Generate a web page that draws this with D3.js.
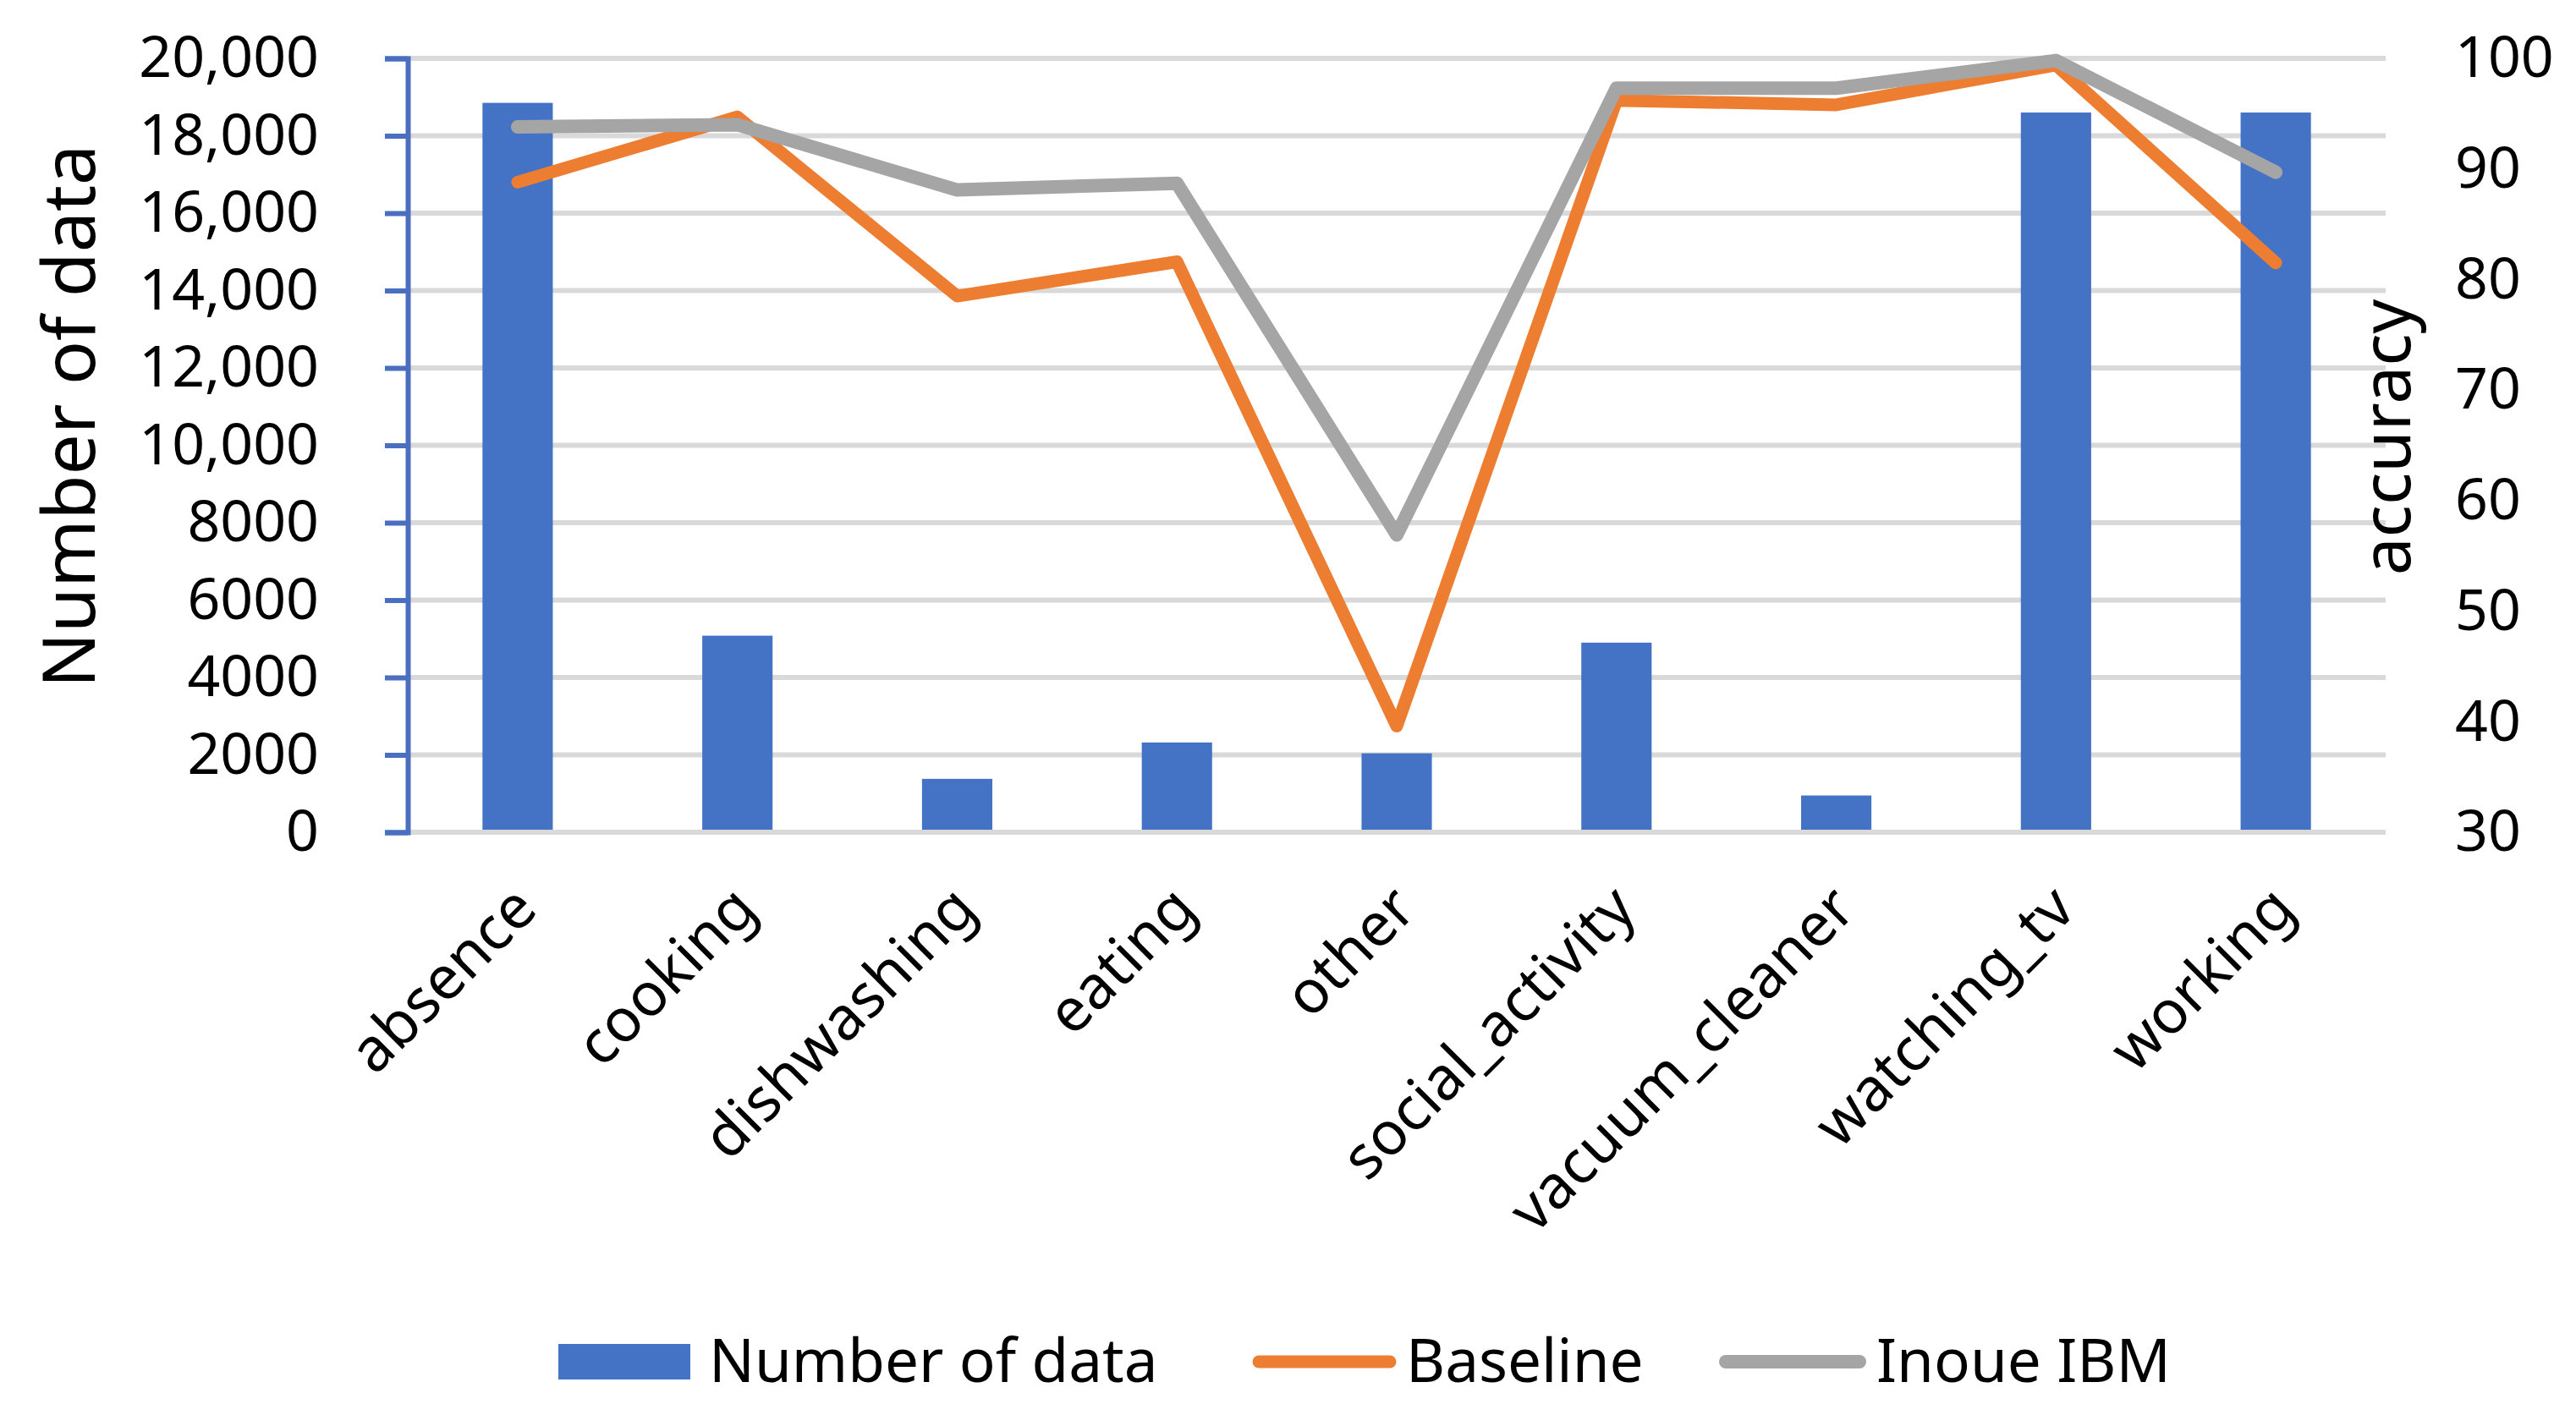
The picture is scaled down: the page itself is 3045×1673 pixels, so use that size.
<!DOCTYPE html>
<html>
<head>
<meta charset="utf-8">
<script src="https://cdn.jsdelivr.net/npm/d3@7"></script>
<style>
  html, body { margin: 0; padding: 0; background: #fff; }
  svg { display: block; }
  text { font-family: "Noto Sans", "Open Sans", sans-serif; fill: #000; }
</style>
</head>
<body>
<script>
const categories = ["absence","cooking","dishwashing","eating","other","social_activity","vacuum_cleaner","watching_tv","working"];
const numberOfData = [18850, 5080, 1380, 2320, 2040, 4900, 950, 18600, 18600];
const baseline = [88.8, 94.7, 78.5, 81.6, 39.6, 96.2, 95.8, 99.4, 81.5];
const inoueIBM = [93.8, 94.0, 88.1, 88.7, 56.9, 97.3, 97.3, 99.8, 89.7];
const leftTicks = [0, 2000, 4000, 6000, 8000, 10000, 12000, 14000, 16000, 18000, 20000];
const rightTicks = [30, 40, 50, 60, 70, 80, 90, 100];
const seriesNames = ["Number of data", "Baseline", "Inoue IBM"];

const W = 3045, H = 1673;
const plot = { left: 482, right: 2820, top: 69, bottom: 984 };
const colors = { bar: "#4472C4", base: "#ED7D31", inoue: "#A5A5A5", grid: "#D9D9D9", axis: "#4A6FBF" };

const svg = d3.select("body").append("svg").attr("width", W).attr("height", H);

const x = d3.scaleBand().domain(categories).range([plot.left, plot.right])
  .paddingInner(0.68).paddingOuter(0.34);
const yL = d3.scaleLinear().domain([0, 20000]).range([plot.bottom, plot.top]);
const yR = d3.scaleLinear().domain([30, 100]).range([plot.bottom, plot.top]);

// gridlines
svg.append("g").selectAll("line").data(leftTicks).join("line")
  .attr("x1", plot.left).attr("x2", plot.right)
  .attr("y1", d => yL(d)).attr("y2", d => yL(d))
  .attr("stroke", colors.grid).attr("stroke-width", 6);

// left axis
const fmtL = d => d >= 10000 ? d3.format(",")(d) : String(d);
const gL = svg.append("g").attr("transform", `translate(${plot.left},0)`)
  .call(d3.axisLeft(yL).tickValues(leftTicks).tickFormat(fmtL).tickSize(27).tickPadding(78));
gL.select(".domain").attr("stroke", colors.axis).attr("stroke-width", 6);
gL.selectAll(".tick line").attr("stroke", colors.axis).attr("stroke-width", 6);
gL.selectAll(".tick text").attr("font-size", 68).attr("fill", "#000")
  .attr("font-family", "Noto Sans, sans-serif");

// right axis
const gR = svg.append("g").attr("transform", `translate(${plot.right},0)`)
  .call(d3.axisRight(yR).tickValues(rightTicks).tickSize(0).tickPadding(82));
gR.select(".domain").remove();
gR.selectAll(".tick text").attr("font-size", 68).attr("fill", "#000")
  .attr("font-family", "Noto Sans, sans-serif");

// bars
svg.append("g").selectAll("rect").data(categories).join("rect")
  .attr("x", d => x(d)).attr("width", x.bandwidth())
  .attr("y", (d, i) => yL(numberOfData[i]))
  .attr("height", (d, i) => yL(0) - yL(numberOfData[i]) - 3)
  .attr("fill", colors.bar);

// lines
const cx = d => x(d) + x.bandwidth() / 2;
const lineGen = vals => d3.line().x((d) => cx(d)).y((d, i) => yR(vals[i]))(categories);
svg.append("path").attr("d", lineGen(baseline)).attr("fill", "none")
  .attr("stroke", colors.base).attr("stroke-width", 15)
  .attr("stroke-linejoin", "round").attr("stroke-linecap", "round");
svg.append("path").attr("d", lineGen(inoueIBM)).attr("fill", "none")
  .attr("stroke", colors.inoue).attr("stroke-width", 16)
  .attr("stroke-linejoin", "round").attr("stroke-linecap", "round");

// x category labels
svg.append("g").selectAll("text").data(categories).join("text")
  .attr("transform", d => `translate(${cx(d) + 26},${plot.bottom + 94}) rotate(-45)`)
  .attr("text-anchor", "end").attr("font-size", 71)
  .text(d => d);

// axis titles
svg.append("text").attr("transform", `translate(112,492) rotate(-90)`)
  .attr("text-anchor", "middle").attr("font-size", 86).text("Number of data");
svg.append("text").attr("transform", `translate(2849,517) rotate(-90)`)
  .attr("text-anchor", "middle").attr("font-size", 80).text("accuracy");

// legend
const leg = svg.append("g");
leg.append("rect").attr("x", 660).attr("y", 1589).attr("width", 156).attr("height", 42).attr("fill", colors.bar);
leg.append("text").attr("x", 838).attr("y", 1634).attr("font-size", 71).text(seriesNames[0]);
leg.append("line").attr("x1", 1488).attr("x2", 1643).attr("y1", 1610).attr("y2", 1610)
  .attr("stroke", colors.base).attr("stroke-width", 15).attr("stroke-linecap", "round");
leg.append("text").attr("x", 1662).attr("y", 1634).attr("font-size", 71).text(seriesNames[1]);
leg.append("line").attr("x1", 2040).attr("x2", 2198).attr("y1", 1610).attr("y2", 1610)
  .attr("stroke", colors.inoue).attr("stroke-width", 16).attr("stroke-linecap", "round");
leg.append("text").attr("x", 2218).attr("y", 1634).attr("font-size", 71).text(seriesNames[2]);
</script>
</body>
</html>
